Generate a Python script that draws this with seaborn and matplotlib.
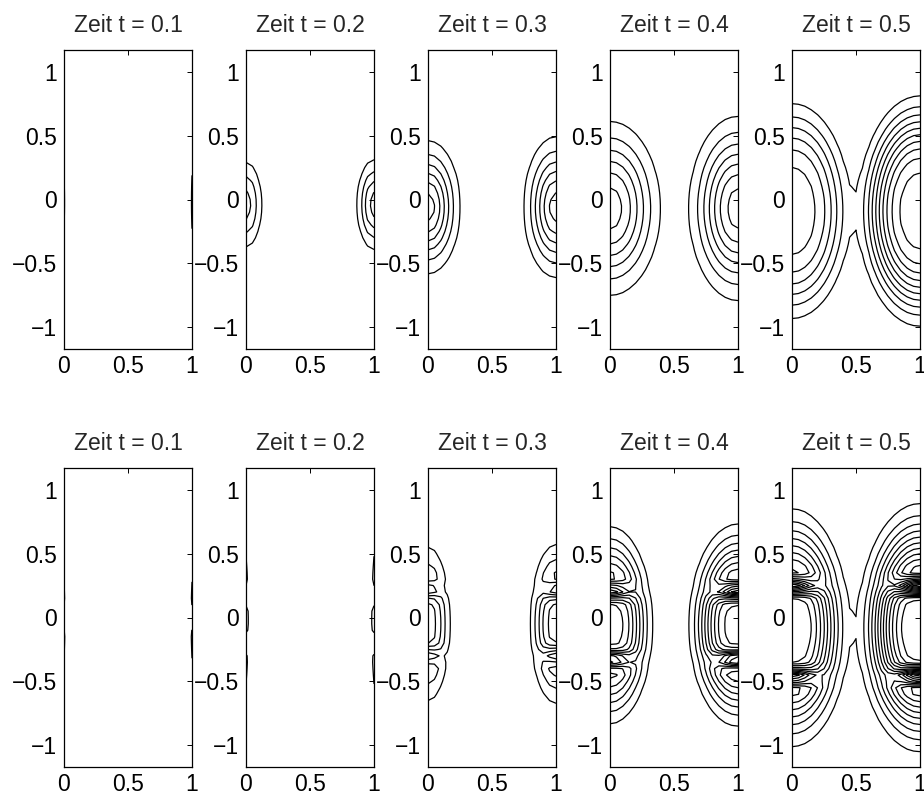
import numpy as np
import matplotlib
matplotlib.use("Agg")
import matplotlib.pyplot as plt
import seaborn as sns

# Snapshot times shown in each column
times = [0.1, 0.2, 0.3, 0.4, 0.5]
titles = [f"Zeit t = {t:.1f}" for t in times]

# Upper row: pulses entering from the walls x = 0 and x = 1
# reach  = extent of the outermost contour away from the wall
# half   = half-height of the outermost contour along the wall
# peak   = peak amplitude (in contour-level units)
# shape  = steepness of the pulse edge
top_reach_left = [0.012, 0.12, 0.25, 0.39, 0.45]
top_reach_right = [0.012, 0.13, 0.25, 0.38, 0.48]
top_half_left = [0.20, 0.33, 0.52, 0.68, 0.84]
top_half_right = [0.21, 0.35, 0.55, 0.72, 0.90]
top_centre = [-0.02, -0.04, -0.06, -0.07, -0.09]
top_peak_left = [1.05, 3.5, 6.5, 6.5, 6.5]
top_peak_right = [1.05, 4.5, 6.5, 7.5, 10.5]
top_shape = [2.0, 2.0, 2.0, 2.2, 3.5]

# Lower row: same pulses, cut into lobes by nodes sitting on the walls
bot_reach_left = [0.015, 0.025, 0.17, 0.33, 0.44]
bot_reach_right = [0.015, 0.025, 0.20, 0.38, 0.48]
bot_half_left = [0.30, 0.50, 0.60, 0.77, 0.93]
bot_half_right = [0.30, 0.50, 0.62, 0.79, 0.97]
bot_centre = [-0.02, -0.02, -0.05, -0.06, -0.08]
bot_shape = [2.0, 2.0, 2.5, 3.0, 3.0]
node_upper = [0.00, 0.17, 0.22, 0.21, 0.25]
node_lower = [-0.60, -0.20, -0.30, -0.33, -0.46]
node_length = [0.03, 0.04, 0.12, 0.18, 0.20]
bot_peak_left = [1.1, 1.3, 4.5, 8.5, 11.0]
bot_peak_right = [1.1, 1.3, 5.5, 10.5, 14.0]

levels = np.arange(1, 18)
x_ticks = [0, 0.5, 1]
x_ticklabels = ["0", "0.5", "1"]
y_ticks = [-1, -0.5, 0, 0.5, 1]
y_ticklabels = ["\u22121", "\u22120.5", "0", "0.5", "1"]

sns.set_style("white")
plt.rcParams["font.family"] = ["Liberation Sans", "DejaVu Sans"]
plt.rcParams["axes.linewidth"] = 0.9

xg = np.linspace(0, 1, 21)
yg = np.linspace(-1.2, 1.2, 49)
X, Y = np.meshgrid(xg, yg)


def wall_pulse(dist, y, reach, half, centre, peak, shape):
    k = np.log(peak) ** (1.0 / shape)
    rho = np.sqrt((dist / (reach / k)) ** 2 + ((y - centre) / (half / k)) ** 2)
    return peak * np.exp(-rho ** shape)


def split_pulse(dist, y, reach, half, centre, peak, shape, nodes, length, width=0.06):
    u = wall_pulse(dist, y, reach, half, centre, peak, shape)
    for n in nodes:
        u = u * (1 - np.exp(-(dist / length) ** 2 - ((y - n) / width) ** 2))
    return u


fig = plt.figure(figsize=(9.24, 8), dpi=100)
lefts_px = [64, 246, 428, 610, 792]
W, H = 924, 800
rows_px = [(50, 349), (468, 767)]


def style(ax, title):
    ax.set_xlim(0, 1)
    ax.set_ylim(-1.17, 1.17)
    ax.set_xticks(x_ticks)
    ax.set_xticklabels(x_ticklabels)
    ax.set_yticks(y_ticks)
    ax.set_yticklabels(y_ticklabels)
    ax.tick_params(direction="in", top=True, right=True, length=3.5, width=0.7,
                   labelsize=16.5, colors="black", pad=4)
    ax.tick_params(axis="y", pad=5)
    for s in ax.spines.values():
        s.set_color("black")
    ax.set_title(title, fontsize=16.5, pad=13)


for r, (top_px, bot_px) in enumerate(rows_px):
    for i, left in enumerate(lefts_px):
        ax = fig.add_axes([left / W, 1 - bot_px / H, 128 / W, (bot_px - top_px) / H])
        if r == 0:
            U = (wall_pulse(X, Y, top_reach_left[i], top_half_left[i], top_centre[i],
                            top_peak_left[i], top_shape[i])
                 + wall_pulse(1 - X, Y, top_reach_right[i], top_half_right[i], top_centre[i],
                              top_peak_right[i], top_shape[i]))
        else:
            nodes = (node_upper[i], node_lower[i])
            U = (split_pulse(X, Y, bot_reach_left[i], bot_half_left[i], bot_centre[i],
                             bot_peak_left[i], bot_shape[i], nodes, node_length[i])
                 + split_pulse(1 - X, Y, bot_reach_right[i], bot_half_right[i], bot_centre[i],
                               bot_peak_right[i], bot_shape[i], nodes, node_length[i]))
        ax.contour(X, Y, U, levels=levels, colors="black", linewidths=0.9)
        style(ax, titles[i])

fig.savefig("out.png", dpi=100)
